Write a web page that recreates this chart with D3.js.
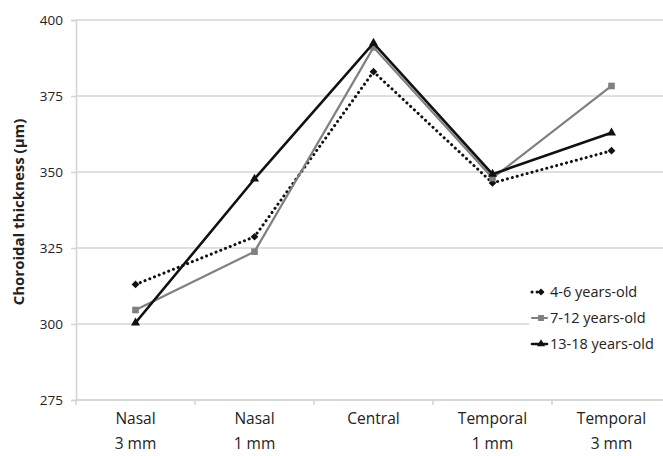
<!DOCTYPE html>
<html><head><meta charset="utf-8">
<script src="https://cdn.jsdelivr.net/npm/d3@7"></script>
<style>body{margin:0;background:#fff}svg{display:block}text{font-family:"Open Sans",sans-serif}</style>
</head><body><svg id="c" width="663" height="456"></svg>
<script>
const categories = [["Nasal","3 mm"],["Nasal","1 mm"],["Central",""],["Temporal","1 mm"],["Temporal","3 mm"]];
const seriesNames = ["4-6 years-old","7-12 years-old","13-18 years-old"];
const s4_6 = [313, 328.7, 383, 346.4, 357];
const s7_12 = [304.6, 323.8, 391, 348, 378.3];
const s13_18 = [300.4, 347.7, 392.4, 349.3, 362.9];
const yTicks = [275,300,325,350,375,400];

const svg = d3.select("#c");
const x = d3.scaleBand().domain(d3.range(5)).range([76,671]);
const y = d3.scaleLinear().domain([275,400]).range([400,20]);
const grid = "#d4d4d4";

svg.append("g").selectAll("line").data(yTicks).join("line")
  .attr("x1",76).attr("x2",671).attr("y1",d=>y(d)).attr("y2",d=>y(d))
  .attr("stroke",grid).attr("stroke-width",1.5);
const ya = svg.append("g").attr("transform","translate(76,0)").call(d3.axisLeft(y).tickValues(yTicks).tickSize(5).tickPadding(8));
ya.selectAll("path,line").attr("stroke",grid).attr("stroke-width",1.5);
ya.selectAll("text").attr("font-size",13.5).attr("fill","#222").attr("font-family","'Open Sans',sans-serif");
const xa = svg.append("g").attr("transform","translate(0,400)");
xa.append("line").attr("x1",76).attr("x2",671).attr("stroke",grid).attr("stroke-width",1.5);
xa.selectAll("line.t").data(d3.range(6)).join("line").attr("class","t")
  .attr("x1",d=>76+d*x.step()).attr("x2",d=>76+d*x.step()).attr("y1",0).attr("y2",5)
  .attr("stroke",grid).attr("stroke-width",1.5);
categories.forEach((c,i)=>{
  const cx = x(i)+x.bandwidth()/2;
  const t = xa.append("text").attr("text-anchor","middle").attr("font-size",15.5).attr("fill","#222");
  t.append("tspan").attr("x",cx).attr("y",24).text(c[0]);
  t.append("tspan").attr("x",cx).attr("y",49).text(c[1]);
});
svg.append("text").attr("transform","translate(24,212) rotate(-90)").attr("text-anchor","middle")
  .attr("font-size",15).attr("font-weight","bold").attr("fill","#222").text("Choroidal thickness (µm)");

const cx = i => x(i)+x.bandwidth()/2;
const line = d3.line().x((d,i)=>cx(i)).y(d=>y(d));
const styles = [
  {data:s4_6, color:"#111", dash:"0.1,5", w:3, shape:d3.symbolSquare, size:30, rot:45},
  {data:s7_12, color:"#808080", dash:null, w:2.2, shape:d3.symbolSquare, size:44, rot:0},
  {data:s13_18, color:"#111", dash:null, w:2.6, shape:d3.symbolTriangle, size:36, rot:0}
];
styles.forEach(s=>{
  svg.append("path").datum(s.data).attr("d",line).attr("fill","none").attr("stroke",s.color)
    .attr("stroke-width",s.w).attr("stroke-dasharray",s.dash).attr("stroke-linecap","round");
  svg.append("g").selectAll("path").data(s.data).join("path")
    .attr("transform",(d,i)=>`translate(${cx(i)},${y(d)}) rotate(${s.rot})`)
    .attr("d",d3.symbol().type(s.shape).size(s.size)).attr("fill",s.color);
});

const lg = svg.append("g");
lg.append("rect").attr("x",529).attr("y",278).attr("width",134).attr("height",80).attr("fill","#fff");
styles.forEach((s,i)=>{
  const ly = 292 + i*26;
  lg.append("line").attr("x1",532).attr("x2",547).attr("y1",ly).attr("y2",ly)
    .attr("stroke",s.color).attr("stroke-width",s.w).attr("stroke-dasharray",s.dash).attr("stroke-linecap","round");
  lg.append("path").attr("transform",`translate(541,${ly}) rotate(${s.rot})`).attr("d",d3.symbol().type(s.shape).size(s.size*0.8)).attr("fill",s.color);
  lg.append("text").attr("x",550).attr("y",ly+5).attr("font-size",14.5).attr("fill","#222").text(seriesNames[i]);
});
</script></body></html>
